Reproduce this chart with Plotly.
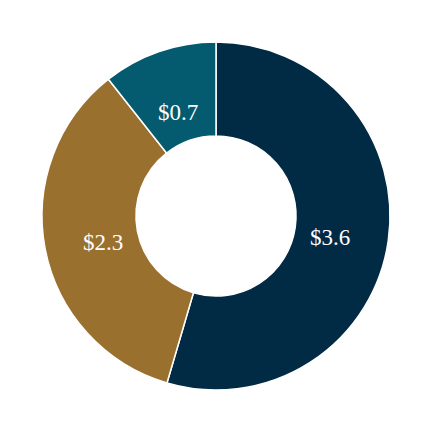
import math
import plotly.graph_objects as go

labels = ["A", "B", "C"]
values = [3.6, 2.3, 0.7]
text_labels = ["$3.6", "$2.3", "$0.7"]
colors = ["#012b45", "#9a702e", "#045a6e"]

label_r = 0.66  # labels sit a bit inside the middle of the ring

fig = go.Figure(go.Pie(
    labels=labels,
    values=values,
    hole=0.46,
    sort=False,
    direction="clockwise",
    rotation=0,
    marker=dict(colors=colors, line=dict(color="white", width=1.5)),
    textinfo="none",
    showlegend=False,
))

# value labels at each slice's mid angle (clockwise from 12 o'clock)
total = sum(values)
cum = 0
for v, t in zip(values, text_labels):
    mid = (cum + v / 2) / total * 2 * math.pi
    cum += v
    fig.add_annotation(
        x=0.5 + 0.5 * label_r * math.sin(mid),
        y=0.5 + 0.5 * label_r * math.cos(mid),
        xref="paper", yref="paper",
        text=t, showarrow=False,
        xanchor="center", yanchor="middle", yshift=-5,
        font=dict(family="Liberation Serif, Times New Roman, serif", size=23, color="white"),
    )

fig.update_layout(
    width=430, height=430,
    margin=dict(l=34, r=48, t=34, b=48),
    paper_bgcolor="white",
    plot_bgcolor="white",
)

fig.write_html("out.html")
